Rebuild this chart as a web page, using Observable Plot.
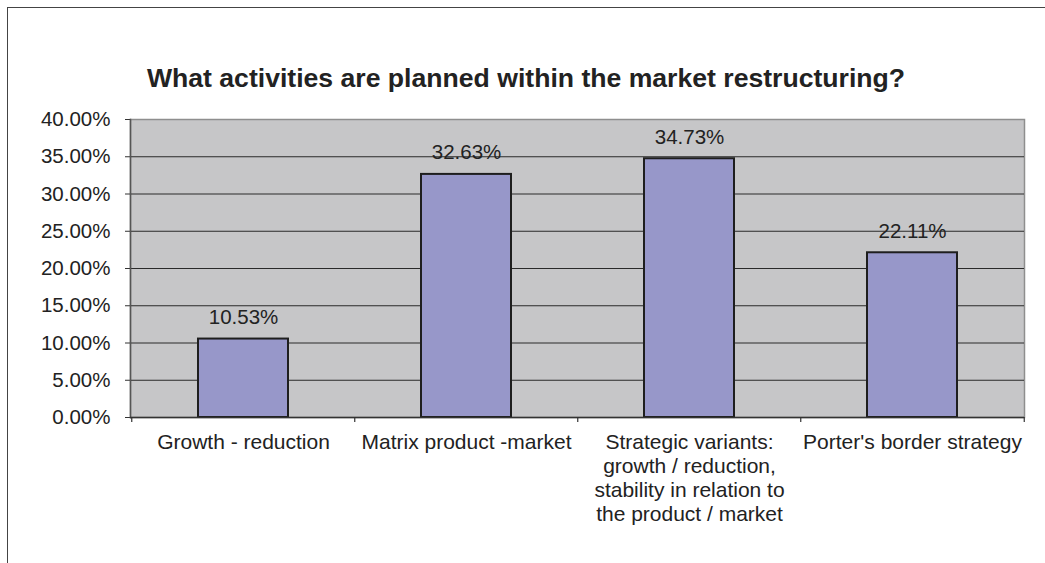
<!DOCTYPE html>
<html>
<head>
<meta charset="utf-8">
<script src="https://cdn.jsdelivr.net/npm/d3@7"></script>
<script src="https://cdn.jsdelivr.net/npm/@observablehq/plot@0.6"></script>
<style>
  html, body { margin: 0; padding: 0; background: #fff; }
  body { width: 1045px; height: 563px; overflow: hidden; position: relative; font-family: "Liberation Sans", Arial, sans-serif; }
  #frame { position: absolute; left: 7px; top: 7px; width: 1100px; height: 600px; border-left: 1.5px solid #444; border-top: 1.5px solid #444; }
  #title { position: absolute; left: 7px; top: 0; width: 1038px; height: 100px; }
  #title span { position: absolute; left: 0; right: 0; text-align: center; top: 63px; font-size: 26.6px; font-weight: bold; color: #222; white-space: nowrap; }
  #chart { position: absolute; left: 0; top: 100px; }
</style>
</head>
<body>
<div id="frame"></div>
<div id="title"><span>What activities are planned within the market restructuring?</span></div>
<div id="chart"></div>
<script>
const categories = ["Growth - reduction", "Matrix product -market", "Strategic variants", "Porter's border strategy"];
const tickLabels = ["Growth - reduction", "Matrix product -market", "Strategic variants:\ngrowth / reduction,\nstability in relation to\nthe product / market", "Porter's border strategy"];
const values = [0.1053, 0.3263, 0.3473, 0.2211];
const yTicks = [0, 0.05, 0.10, 0.15, 0.20, 0.25, 0.30, 0.35, 0.40];

const data = categories.map((c, i) => ({category: c, value: values[i]}));
const labelOf = new Map(categories.map((c, i) => [c, tickLabels[i]]));

const W = 1045, H = 463;
const mL = 130, mR = 21, mT = 19, mB = 146;
const step = (W - mL - mR) / categories.length;

const chart = Plot.plot({
  width: W, height: H,
  marginLeft: mL, marginRight: mR, marginTop: mT, marginBottom: mB,
  style: { fontFamily: "'Liberation Sans', Arial, sans-serif", fontSize: "20.5px", color: "#222", background: "transparent" },
  x: { domain: categories, paddingInner: 0.597, paddingOuter: 0.2985, label: null },
  y: { domain: [0, 0.4], label: null },
  marks: [
    Plot.frame({ fill: "#c6c6c8", stroke: "#8e8e8e", strokeWidth: 1.5 }),
    Plot.ruleY(yTicks.slice(1, -1), { stroke: "#2a2a2a", strokeWidth: 1.2 }),
    Plot.barY(data, { x: "category", y: "value", fill: "#9797c9", stroke: "#1e1e1e", strokeWidth: 2 }),
    Plot.text(data, { x: "category", y: "value", text: d => d3.format(".2%")(d.value), dy: -21.5, fontSize: 20.5, fill: "#222" }),
    Plot.axisY({ ticks: yTicks, tickFormat: d3.format(".2%"), tickSize: 5, tickPadding: 15, fontSize: 20.5, stroke: "#333" }),
    Plot.frame({ anchor: "left", stroke: "#555", strokeWidth: 1.5 }),
    Plot.ruleY([0], { stroke: "#333", strokeWidth: 1.5 }),
    Plot.ruleX(categories, { x: d => d, y1: 0, y2: 0, insetTop: 5, dx: -step / 2, stroke: "#333", strokeWidth: 1.2 }),
    Plot.ruleX(categories.slice(-1), { x: d => d, y1: 0, y2: 0, insetTop: 5, dx: step / 2, stroke: "#333", strokeWidth: 1.2 }),
    Plot.axisX({ tickSize: 0, tickPadding: 14, tickFormat: d => labelOf.get(d), fontSize: 21, lineHeight: 1.15, fill: "#222" })
  ]
});
document.getElementById("chart").appendChild(chart);
</script>
</body>
</html>
